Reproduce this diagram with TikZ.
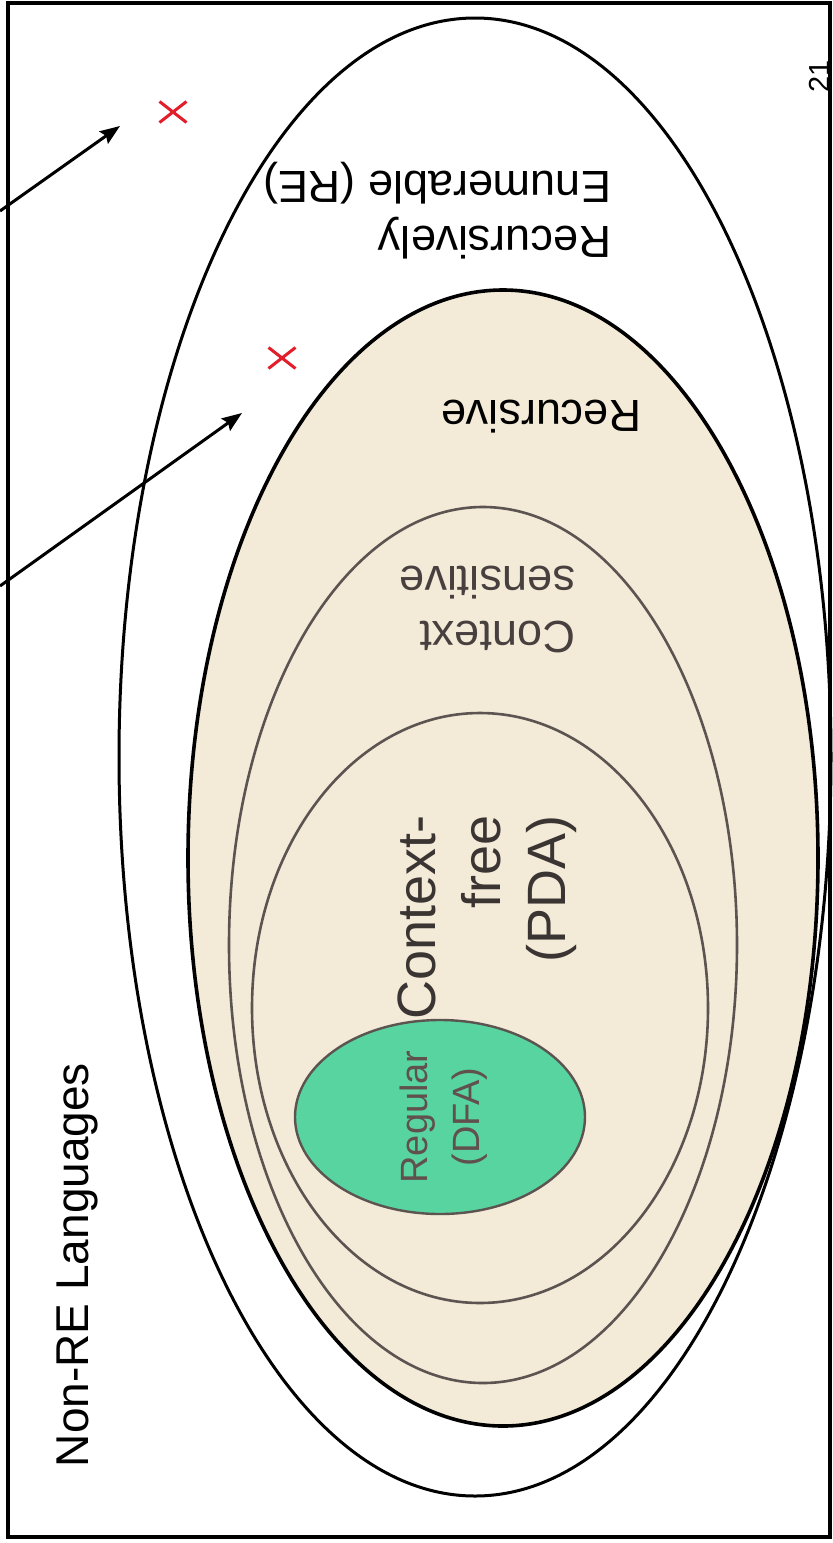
\documentclass[tikz,border=0pt]{standalone}
\usepackage{fontspec}
\setmainfont{Liberation Sans}
\usetikzlibrary{arrows.meta,shapes.misc,shapes.geometric}
\definecolor{beige}{RGB}{243,234,216}
\definecolor{regGreen}{RGB}{88,212,160}
\definecolor{lineGray}{RGB}{92,84,80}
\definecolor{txtGray}{RGB}{72,64,62}
\definecolor{regTxt}{RGB}{96,80,78}
\definecolor{cfTxt}{RGB}{58,52,50}
\definecolor{xRed}{RGB}{226,30,42}
\begin{document}
\begin{tikzpicture}[x=1pt,y=-1pt,
  setshape/.style={ellipse, inner sep=0pt, outer sep=0pt},
  mainline/.style={line width=3pt, draw=black},
  subline/.style={line width=2.6pt, draw=lineGray},
  lbl/.style={inner sep=0pt, outer sep=0pt},
  redx/.style={cross out, draw=xRed, line width=3pt, minimum width=24pt, minimum height=18pt, inner sep=0pt},
  pointer/.style={line width=3pt, draw=black, -{Stealth[length=20pt,width=15pt,inset=3pt]}}
]
\useasboundingbox (0,0) rectangle (833,1543);
\fill[white] (0,0) rectangle (833,1543);

% sets
\node[setshape, mainline, fill=white, minimum width=712pt, minimum height=1478pt] (re) at (475,757) {};
\node[setshape, line width=3.6pt, draw=black, fill=beige, minimum width=630pt, minimum height=1136pt] (rec) at (503,858) {};
\node[setshape, subline, minimum width=508pt, minimum height=876pt] (cs) at (483,945) {};
\node[setshape, subline, minimum width=456pt, minimum height=590pt] (cfl) at (480,1008) {};
\node[setshape, subline, line width=2.4pt, fill=regGreen, minimum width=290pt, minimum height=194pt] (reg) at (440,1117) {};

% frame
\node[draw=black, line width=3.4pt, inner sep=0pt, minimum width=822pt, minimum height=1534pt] (frame) at (419,770) {};

% labels
\node[lbl, rotate=90, anchor=base, font=\fontsize{46}{55}\selectfont] (nonre) at (88,1265) {Non-RE Languages};
\node[lbl, rotate=180, anchor=west, align=left, font=\fontsize{45}{55}\selectfont] (relbl) at (611,211) {Recursively\\Enumerable (RE)};
\node[lbl, rotate=180, anchor=base, font=\fontsize{45}{55}\selectfont] (reclbl) at (541,400) {Recursive};
\node[lbl, rotate=180, anchor=west, align=left, text=txtGray, font=\fontsize{45}{55}\selectfont] (cslbl) at (575,609) {Context\\sensitive};
\node[lbl, rotate=90, anchor=east, align=right, text=cfTxt, font=\fontsize{54}{65}\selectfont] (cfllbl) at (487,815) {Context-\\free\\(PDA)};
\node[lbl, rotate=90, align=center, text=regTxt, font=\fontsize{38}{52}\selectfont] (reglbl) at (444,1117) {Regular\\(DFA)};
\node[lbl, rotate=90, anchor=base, font=\fontsize{29}{34}\selectfont] (pagenum) at (829,76) {21};

% marks
\node[redx] (x1) at (173,112) {};
\node[redx] (x2) at (282,358) {};

% pointers
\coordinate (a1s) at (0,211);
\coordinate (a1e) at (120,126);
\coordinate (a2s) at (0,586);
\coordinate (a2e) at (242,413);
\draw[pointer] (a1s) -- (a1e);
\draw[pointer] (a2s) -- (a2e);
\end{tikzpicture}
\end{document}
